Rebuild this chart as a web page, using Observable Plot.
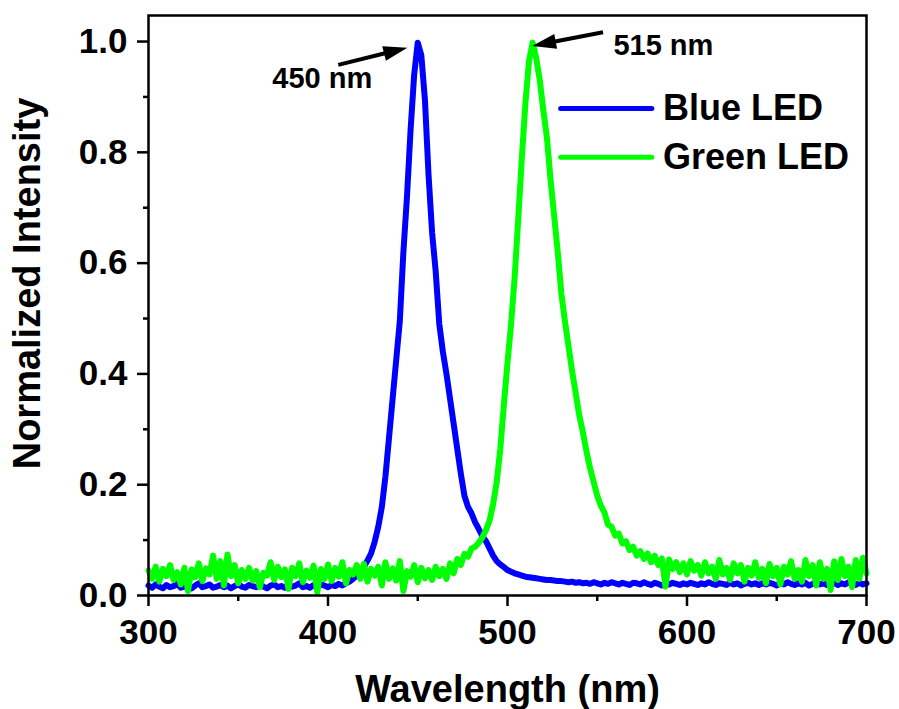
<!DOCTYPE html>
<html>
<head>
<meta charset="utf-8">
<script src="https://cdn.jsdelivr.net/npm/d3@7"></script>
<script src="https://cdn.jsdelivr.net/npm/@observablehq/plot@0.6"></script>
<style>
  html, body { margin: 0; padding: 0; background: #fff; }
  #chart { width: 899px; height: 709px; }
  svg { font-family: "Liberation Sans", Arial, Helvetica, sans-serif; }
</style>
</head>
<body>
<div id="chart"></div>
<script>
// ---- Data ----
// Wavelength grid: 300 ... 700 nm, 2 nm steps
const wavelengths = d3.range(300, 701, 2);

const blueLED = [
  0.018,0.014,0.020,0.016,0.013,0.019,0.015,0.017,0.021,0.014, // 300-318
  0.016,0.019,0.013,0.018,0.022,0.015,0.017,0.020,0.014,0.016, // 320-338
  0.019,0.015,0.018,0.013,0.017,0.020,0.016,0.014,0.019,0.017, // 340-358
  0.015,0.021,0.016,0.013,0.018,0.020,0.015,0.017,0.014,0.019, // 360-378
  0.016,0.018,0.022,0.015,0.017,0.014,0.019,0.016,0.020,0.018, // 380-398
  0.015,0.019,0.017,0.021,0.018,0.022,0.025,0.030,0.036,0.043, // 400-418
  0.052,0.063,0.076,0.097,0.124,0.160,0.215,0.285,0.355,0.425, // 420-438
  0.495,0.620,0.720,0.840,0.940,0.998,0.975,0.895,0.760,0.655, // 440-458
  0.585,0.490,0.440,0.400,0.355,0.310,0.265,0.220,0.180,0.160, // 460-478
  0.148,0.132,0.120,0.107,0.098,0.085,0.072,0.062,0.056,0.051, // 480-498
  0.046,0.043,0.040,0.038,0.036,0.034,0.033,0.032,0.031,0.030, // 500-518
  0.029,0.028,0.028,0.027,0.026,0.026,0.025,0.024,0.025,0.023, // 520-538
  0.024,0.022,0.023,0.021,0.024,0.022,0.020,0.023,0.021,0.024, // 540-558
  0.022,0.020,0.023,0.021,0.019,0.023,0.022,0.020,0.024,0.021, // 560-578
  0.019,0.023,0.021,0.018,0.022,0.020,0.023,0.021,0.019,0.022, // 580-598
  0.020,0.023,0.021,0.019,0.022,0.020,0.024,0.021,0.019,0.022, // 600-618
  0.021,0.019,0.023,0.020,0.022,0.018,0.021,0.023,0.020,0.022, // 620-638
  0.019,0.022,0.020,0.023,0.021,0.018,0.022,0.020,0.024,0.021, // 640-658
  0.019,0.022,0.020,0.023,0.018,0.021,0.024,0.020,0.022,0.019, // 660-678
  0.021,0.023,0.019,0.022,0.020,0.024,0.021,0.019,0.023,0.020, // 680-698
  0.022                                                        // 700
];

const greenLED = [
  0.045,0.030,0.052,0.025,0.048,0.035,0.055,0.028,0.042,0.020, // 300-318
  0.050,0.008,0.047,0.033,0.058,0.026,0.049,0.038,0.072,0.030, // 320-338
  0.062,0.018,0.074,0.035,0.055,0.022,0.046,0.030,0.050,0.027, // 340-358
  0.044,0.015,0.041,0.036,0.060,0.028,0.052,0.033,0.047,0.012, // 360-378
  0.050,0.035,0.058,0.024,0.045,0.032,0.054,0.006,0.048,0.030, // 380-398
  0.056,0.026,0.050,0.034,0.060,0.022,0.046,0.038,0.055,0.030, // 400-418
  0.057,0.025,0.048,0.036,0.052,0.018,0.060,0.030,0.049,0.027, // 420-438
  0.062,0.008,0.044,0.034,0.055,0.024,0.050,0.031,0.046,0.028, // 440-458
  0.052,0.035,0.048,0.030,0.058,0.040,0.066,0.055,0.075,0.070, // 460-478
  0.085,0.088,0.095,0.105,0.118,0.135,0.165,0.205,0.265,0.345, // 480-498
  0.420,0.490,0.575,0.680,0.790,0.890,0.965,0.998,0.970,0.930, // 500-518
  0.875,0.825,0.750,0.685,0.620,0.545,0.495,0.450,0.405,0.365, // 520-538
  0.325,0.295,0.260,0.230,0.205,0.180,0.162,0.150,0.128,0.124, // 540-558
  0.108,0.112,0.094,0.098,0.082,0.088,0.072,0.080,0.066,0.076, // 560-578
  0.060,0.072,0.055,0.067,0.016,0.065,0.048,0.060,0.042,0.058, // 580-598
  0.038,0.062,0.045,0.055,0.036,0.060,0.040,0.052,0.030,0.064, // 600-618
  0.038,0.050,0.028,0.058,0.040,0.055,0.025,0.050,0.036,0.060, // 620-638
  0.032,0.048,0.022,0.057,0.035,0.050,0.020,0.052,0.038,0.062, // 640-658
  0.030,0.046,0.025,0.064,0.035,0.055,0.018,0.060,0.030,0.048, // 660-678
  0.010,0.062,0.028,0.066,0.035,0.052,0.015,0.064,0.030,0.068, // 680-698
  0.040                                                        // 700
];

const seriesNames = ["Blue LED", "Green LED"];
const seriesColors = ["#0000FF", "#00FF00"];

const xTicks = [300, 400, 500, 600, 700];
const xMinorTicks = [350, 450, 550, 650];
const yTicks = [0.0, 0.2, 0.4, 0.6, 0.8, 1.0];
const yMinorTicks = [0.1, 0.3, 0.5, 0.7, 0.9];

const peakLabels = ["450 nm", "515 nm"];
// annotation anchors in data units
const peakLabelPos = [{x: 369, y: 0.916}, {x: 559, y: 0.975}];
const arrowPos = [
  {x1: 406, y1: 0.957, x2: 444.5, y2: 0.988},
  {x1: 553.5, y1: 1.016, x2: 514, y2: 0.991}
];
const legendPos = [{x1: 529.6, x2: 580.4, y: 0.879, tx: 586.6}, {x1: 529.6, x2: 580.4, y: 0.791, tx: 586.6}];

// ---- Build tidy table ----
const rows = [];
wavelengths.forEach((w, i) => {
  rows.push({wavelength: w, intensity: blueLED[i], series: seriesNames[0]});
});
wavelengths.forEach((w, i) => {
  rows.push({wavelength: w, intensity: greenLED[i], series: seriesNames[1]});
});

const font = {fontSize: 35, fontWeight: "bold"};

function arrowsMark(index, scales) {
  const g = d3.create("svg:g");
  for (const a of arrowPos) {
    const X1 = scales.x(a.x1), Y1 = scales.y(a.y1), X2 = scales.x(a.x2), Y2 = scales.y(a.y2);
    const ang = Math.atan2(Y2 - Y1, X2 - X1);
    const L = 24, W = 7.5;
    const c = Math.cos(ang), s = Math.sin(ang);
    const bx = X2 - L * c, by = Y2 - L * s;
    g.append("line")
      .attr("x1", X1).attr("y1", Y1).attr("x2", bx + 2 * c).attr("y2", by + 2 * s)
      .attr("stroke", "black").attr("stroke-width", 4);
    g.append("path")
      .attr("d", `M${X2},${Y2}L${bx + W * s},${by - W * c}L${bx - W * s},${by + W * c}Z`)
      .attr("fill", "black");
  }
  return g.node();
}

const plot = Plot.plot({
  width: 899,
  height: 709,
  marginLeft: 148,
  marginRight: 33,
  marginTop: 15,
  marginBottom: 114,
  style: {fontFamily: '"Liberation Sans", Arial, Helvetica, sans-serif', background: "white", overflow: "visible"},
  x: {domain: [300, 700]},
  y: {domain: [0, 1.047]},
  color: {domain: seriesNames, range: seriesColors},
  marks: [
    Plot.line(rows.filter(d => d.series === seriesNames[0]), {x: "wavelength", y: "intensity", stroke: seriesColors[0], strokeWidth: 6, strokeLinejoin: "round", strokeLinecap: "round"}),
    Plot.line(rows.filter(d => d.series === seriesNames[1]), {x: "wavelength", y: "intensity", stroke: seriesColors[1], strokeWidth: 6, strokeLinejoin: "round", strokeLinecap: "round"}),
    Plot.frame({stroke: "black", strokeWidth: 2.5}),
    Plot.axisX({ticks: xTicks, tickSize: 11, tickPadding: 13, strokeWidth: 2.5, label: null, ...font}),
    Plot.axisX({ticks: xMinorTicks, tickSize: 6, strokeWidth: 2.5, label: null, tickFormat: () => ""}),
    Plot.axisY({ticks: yTicks, tickSize: 11, tickPadding: 10, strokeWidth: 2.5, label: null, tickFormat: d3.format(".1f"), ...font}),
    Plot.axisY({ticks: yMinorTicks, tickSize: 5, strokeWidth: 2.5, label: null, tickFormat: () => ""}),
    Plot.text(["Wavelength (nm)"], {frameAnchor: "bottom", dy: 106, lineAnchor: "bottom", fontSize: 38, fontWeight: "bold", fill: "black"}),
    Plot.text(["Normalized Intensity"], {frameAnchor: "left", dx: -121, dy: -22, rotate: -90, textAnchor: "middle", lineAnchor: "middle", fontSize: 38, fontWeight: "bold", fill: "black"}),
    // legend
    Plot.link(legendPos, {x1: "x1", x2: "x2", y1: "y", y2: "y", stroke: (d, i) => seriesColors[i], strokeWidth: 5, strokeLinecap: "round"}),
    Plot.text(legendPos, {x: "tx", y: "y", text: (d, i) => seriesNames[i], textAnchor: "start", lineAnchor: "middle", fontSize: 36, fontWeight: "bold", fill: "black"}),
    // peak annotations
    Plot.text(peakLabelPos, {x: "x", y: "y", text: (d, i) => peakLabels[i], textAnchor: "start", lineAnchor: "bottom", fontSize: 29, fontWeight: "bold", fill: "black"}),
    arrowsMark
  ]
});

document.getElementById("chart").appendChild(plot);
</script>
</body>
</html>
